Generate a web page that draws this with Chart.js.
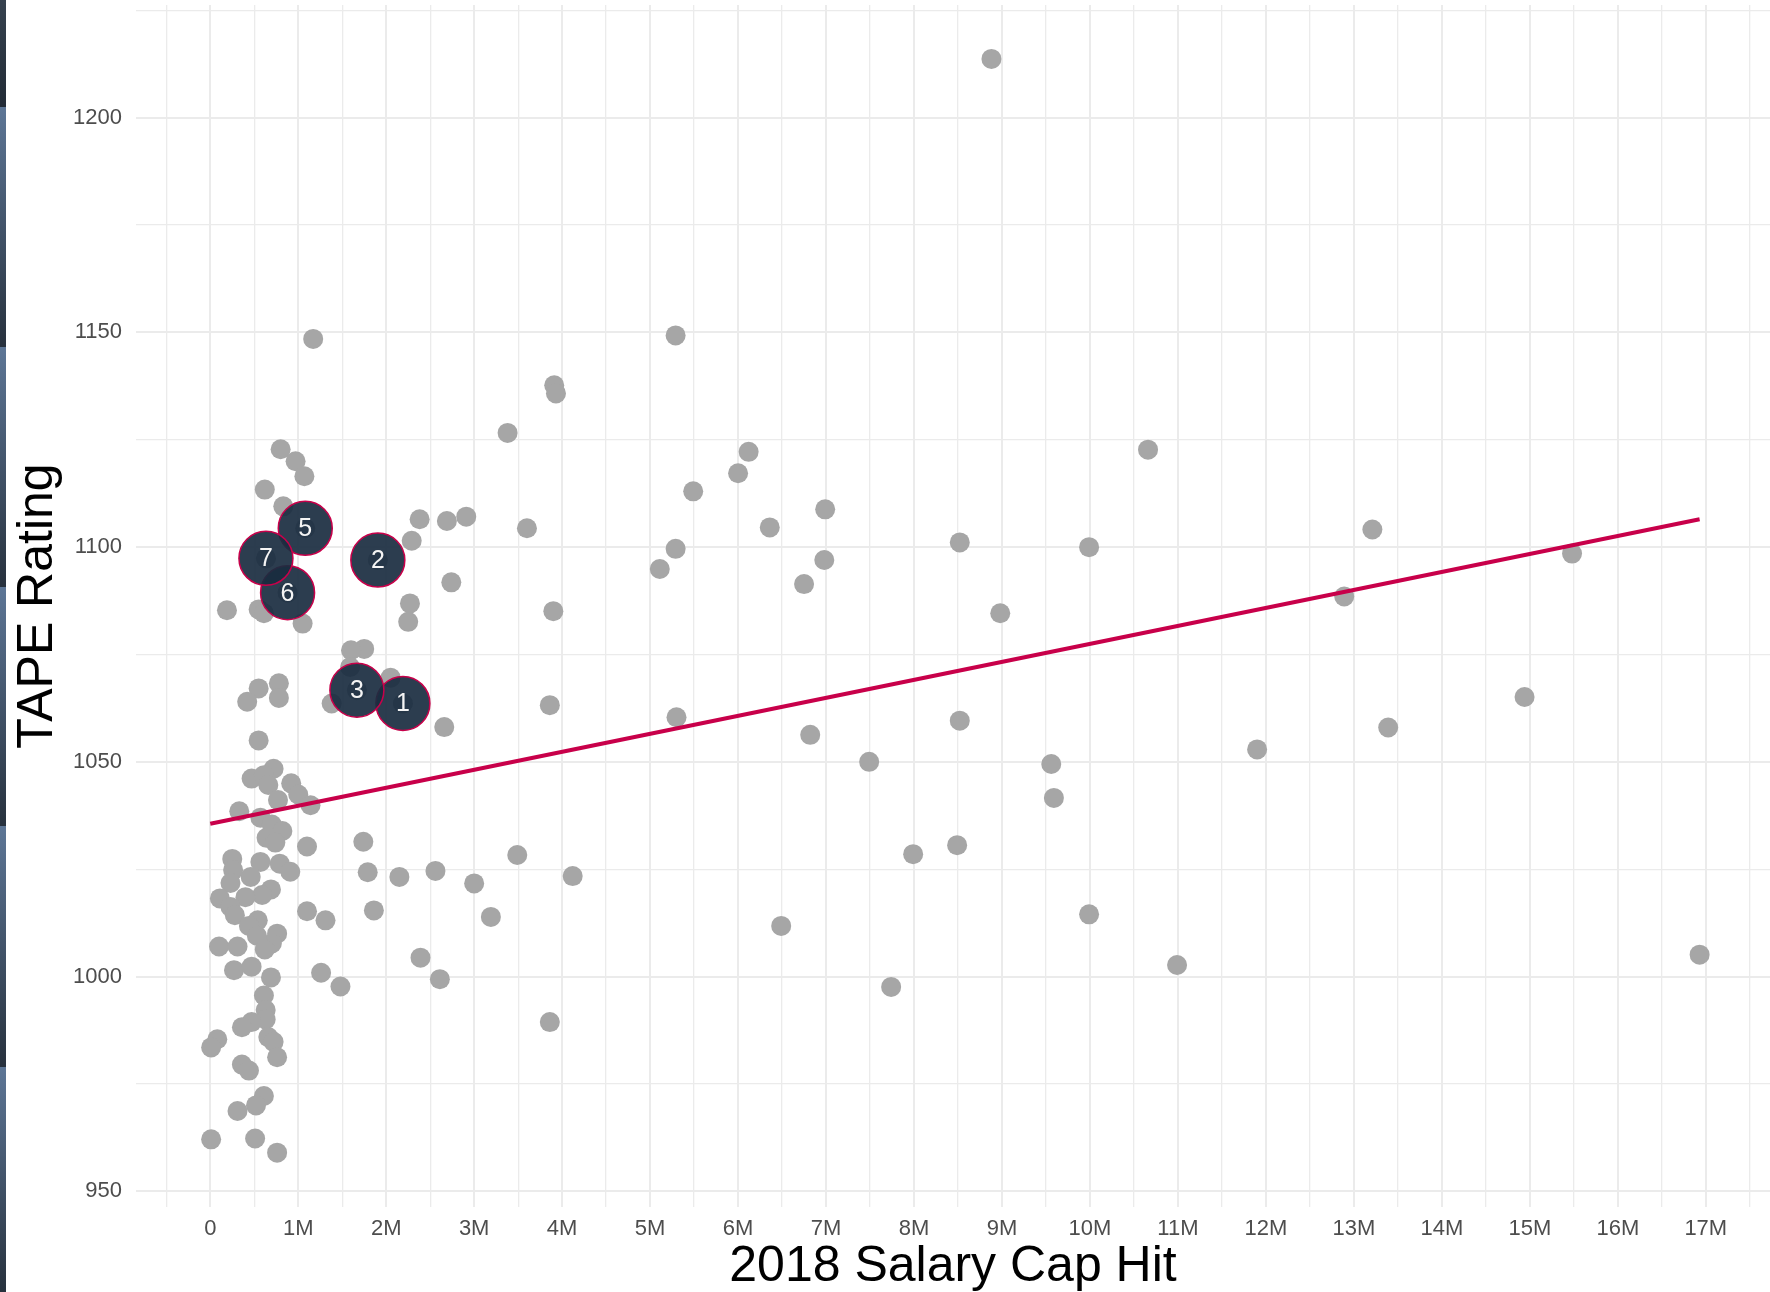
<!DOCTYPE html>
<html>
<head>
<meta charset="utf-8">
<script src="https://cdn.jsdelivr.net/npm/chart.js@4.4.0/dist/chart.umd.min.js"></script>
<style>
  body { margin: 0; background: #fff; }
  #wrap { position: relative; width: 1770px; height: 1292px; }
  #strip {
    position: absolute; left: 0; top: 0; width: 6px; height: 1292px;
    background: linear-gradient(to bottom,
      #36424f 0px, #222b36 107px,
      #5d7696 107px, #27313d 347px,
      #5d7696 347px, #27313d 587px,
      #5d7696 587px, #27313d 826px,
      #5d7696 826px, #27313d 1067px,
      #5d7696 1067px, #27313d 1292px);
  }
</style>
</head>
<body>
<div id="wrap">
  <canvas id="myChart" width="1770" height="1292"></canvas>
  <div id="strip"></div>
</div>
<script>
// salary cap hit in millions, TAPE rating
const grayX = [
  8.88, 5.29, 1.17, 3.91, 3.93, 3.38, 6.12, 10.66, 6.00, 5.49, 6.99, 6.36, 13.21, 3.60, 8.52, 9.99,
  5.29, 15.48, 6.98, 5.11, 6.75, 12.89, 8.98, 3.90, 14.94, 13.39, 8.52, 5.30, 3.86, 6.82, 11.90, 7.49,
  9.56, 9.59, 8.49, 7.99, 3.49, 4.12, 3.00, 3.19, 6.49, 9.99, 10.99, 16.93, 7.74, 3.86,
  2.91, 2.69, 2.38, 2.29, 2.74, 2.27, 2.25, 1.75, 1.60, 2.05, 1.38, 1.59, 2.66, 1.74, 1.79, 2.15,
  2.56, 1.86, 1.10, 1.31, 2.39, 2.61, 1.26, 1.48,
  2.19, 1.905, 1.667, 1.08, 0.879, 0.633,
  0.80, 0.97, 1.07, 0.62, 0.83, 0.19, 0.55, 0.61, 1.05, 0.55, 0.78, 0.78, 0.42, 0.55,
  0.72, 0.47, 0.61, 0.66, 0.92, 1.00, 0.77, 1.14, 0.33, 0.57, 0.70, 0.82, 0.64, 0.74, 1.10,
  0.25, 0.57, 0.79, 0.91, 0.26, 0.46, 0.23, 0.69, 0.59, 0.40, 0.11, 0.23, 0.28, 0.54, 0.44, 0.76,
  0.70, 0.53, 0.62, 0.10, 0.31, 0.27, 0.47, 0.69, 0.61, 0.63, 0.63, 0.47, 0.36, 0.66, 0.72, 0.08,
  0.01, 0.76, 0.36, 0.44, 0.61, 0.52, 0.31, 0.01, 0.51, 0.76
];
const grayY = [
  1213.7, 1149.3, 1148.5, 1137.7, 1135.8, 1126.6, 1122.2, 1122.7, 1117.2, 1113.0, 1108.8, 1104.6, 1104.1, 1104.4, 1101.1, 1100.0,
  1099.6, 1098.5, 1097.0, 1094.9, 1091.4, 1088.5, 1084.6, 1085.1, 1065.1, 1058.0, 1059.6, 1060.4, 1063.2, 1056.3, 1052.9, 1050.0,
  1049.5, 1041.6, 1030.6, 1028.5, 1028.3, 1023.4, 1021.7, 1013.9, 1011.8, 1014.5, 1002.7, 1005.1, 997.6, 989.4,
  1107.1, 1106.1, 1106.5, 1101.5, 1091.8, 1086.9, 1082.6, 1076.3, 1076.0, 1069.6, 1063.6, 1072.1, 1058.1, 1031.4, 1024.3, 1023.2,
  1024.6, 1015.4, 1015.2, 1013.1, 1004.4, 999.4, 1000.9, 997.7,
  1063.6, 1097.0, 1066.7, 1104.4, 1089.4, 1097.4,
  1122.8, 1120.0, 1116.5, 1113.4, 1109.5, 1085.3, 1085.5, 1084.6, 1082.2, 1067.1, 1068.3, 1064.9, 1064.0, 1055.0,
  1048.4, 1046.1, 1046.9, 1044.6, 1045.0, 1042.4, 1041.1, 1039.9, 1038.5, 1037.0, 1035.4, 1033.9, 1032.3, 1031.2, 1030.3,
  1027.4, 1026.7, 1026.3, 1024.4, 1024.8, 1023.2, 1021.8, 1020.3, 1019.0, 1018.5, 1018.2, 1016.2, 1014.3, 1013.1, 1011.8, 1010.0,
  1007.7, 1009.5, 1006.3, 1007.0, 1007.0, 1001.5, 1002.3, 999.8, 995.6, 992.2, 990.0, 989.4, 988.2, 985.9, 984.8, 985.4,
  983.5, 981.2, 979.5, 978.1, 972.2, 970.0, 968.7, 962.1, 962.3, 959.0
];

// highlighted players
const hiLabels = ['1', '2', '3', '5', '6', '7'];
const hiX = [2.19, 1.905, 1.667, 1.08, 0.879, 0.633];
const hiY = [1063.6, 1097.0, 1066.7, 1104.4, 1089.4, 1097.4];

// linear fit
const fitX = [0, 16.93];
const fitY = [1035.6, 1106.5];

const fontFamily = "'Liberation Sans', Arial, sans-serif";

const numberLabels = {
  id: 'numberLabels',
  afterDatasetsDraw(chart) {
    const c = chart.ctx;
    const meta = chart.getDatasetMeta(2);
    c.save();
    c.fillStyle = '#f4f4f4';
    c.font = '25px ' + fontFamily;
    c.textAlign = 'center';
    c.textBaseline = 'middle';
    meta.data.forEach((pt, i) => {
      c.fillText(hiLabels[i], pt.x, pt.y + 1);
    });
    c.restore();
  }
};

const ctx = document.getElementById('myChart').getContext('2d');
const myChart = new Chart(ctx, {
  type: 'scatter',
  data: {
    datasets: [{
      label: 'players',
      data: grayX.map((x, i) => ({x: x, y: grayY[i]})),
      backgroundColor: '#a6a6a6',
      borderWidth: 0,
      pointRadius: 10,
      order: 3
    }, {
      type: 'line',
      label: 'fit',
      data: fitX.map((x, i) => ({x: x, y: fitY[i]})),
      borderColor: '#c8004a',
      borderWidth: 4,
      pointRadius: 0,
      fill: false,
      order: 2
    }, {
      label: 'top',
      data: hiX.map((x, i) => ({x: x, y: hiY[i]})),
      backgroundColor: 'rgba(26,45,64,0.92)',
      borderColor: '#c8004a',
      borderWidth: 1.5,
      pointRadius: 27,
      order: 1
    }]
  },
  options: {
    responsive: false,
    animation: false,
    layout: { autoPadding: false, padding: { top: 5, right: 0, bottom: 0, left: 0 } },
    plugins: {
      legend: { display: false },
      tooltip: { enabled: false }
    },
    scales: {
      x: {
        type: 'linear',
        min: -0.844,
        max: 17.73,
        border: { display: false },
        grid: {
          color: '#ebebeb',
          drawTicks: false,
          lineWidth: c => Number.isInteger(c.tick.value) ? 2 : 1.3
        },
        ticks: {
          stepSize: 0.5,
          maxTicksLimit: 100,
          includeBounds: false,
          autoSkip: false,
          maxRotation: 0,
          padding: 9,
          color: '#4d4d4d',
          font: { family: fontFamily, size: 22 },
          callback: v => Number.isInteger(v) ? (v === 0 ? '0' : v + 'M') : ''
        },
        title: {
          display: true,
          text: '2018 Salary Cap Hit',
          color: '#000',
          font: { family: fontFamily, size: 50, lineHeight: 1 },
          padding: { top: 0, bottom: 0 }
        },
        afterFit: s => { s.height = 85; s.paddingLeft = 0; s.paddingRight = 0; }
      },
      y: {
        min: 946.34,
        max: 1226.25,
        border: { display: false },
        grid: {
          color: '#ebebeb',
          drawTicks: false,
          lineWidth: c => c.tick.value % 50 === 0 ? 2 : 1.3
        },
        ticks: {
          stepSize: 25,
          maxTicksLimit: 100,
          includeBounds: false,
          autoSkip: false,
          padding: 14,
          color: '#4d4d4d',
          font: { family: fontFamily, size: 22 },
          callback: v => v % 50 === 0 ? String(v) : ''
        },
        title: {
          display: true,
          text: 'TAPE Rating',
          color: '#000',
          font: { family: fontFamily, size: 50, lineHeight: 1 },
          padding: { top: 13, bottom: 0 }
        },
        afterFit: s => { s.width = 136; s.paddingTop = 0; s.paddingBottom = 0; }
      }
    }
  },
  plugins: [numberLabels]
});
</script>
</body>
</html>
